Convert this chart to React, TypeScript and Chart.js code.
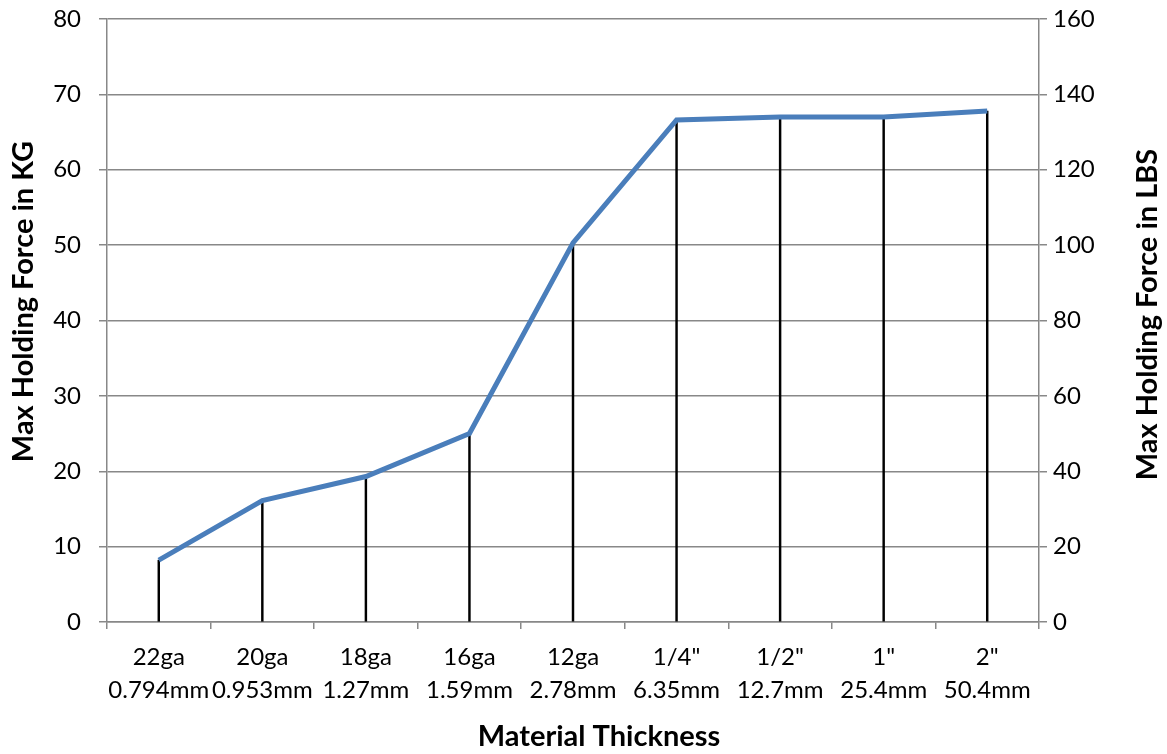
import React, { useEffect, useRef } from "react";
import { Chart, registerables } from "chart.js";

Chart.register(...registerables);

const categories: string[][] = [
  ["22ga", "0.794mm"],
  ["20ga", "0.953mm"],
  ["18ga", "1.27mm"],
  ["16ga", "1.59mm"],
  ["12ga", "2.78mm"],
  ['1/4"', "6.35mm"],
  ['1/2"', "12.7mm"],
  ['1"', "25.4mm"],
  ['2"', "50.4mm"],
];
const holdingForceKg: number[] = [8.2, 16.1, 19.3, 25.0, 50.3, 66.6, 67.0, 67.0, 67.8];

const xTitle = "Material Thickness";
const yLeftTitle = "Max Holding Force in KG";
const yRightTitle = "Max Holding Force in LBS";

const FONT = "Lato, 'Open Sans', sans-serif";

const titlesPlugin = {
  id: "customTitles",
  afterDraw(chart: any) {
    const { ctx, chartArea } = chart;
    ctx.save();
    ctx.fillStyle = "#000";
    ctx.font = `bold 29px ${FONT}`;
    ctx.textAlign = "center";
    ctx.textBaseline = "middle";
    ctx.fillText(xTitle, (chartArea.left + chartArea.right) / 2 + 26, chartArea.bottom + 115);
    ctx.translate(24, (chartArea.top + chartArea.bottom) / 2 - 19);
    ctx.rotate(-Math.PI / 2);
    ctx.fillText(yLeftTitle, 0, 0);
    ctx.restore();
    ctx.save();
    ctx.fillStyle = "#000";
    ctx.font = `bold 29px ${FONT}`;
    ctx.textAlign = "center";
    ctx.textBaseline = "middle";
    ctx.translate(chartArea.right + 109, (chartArea.top + chartArea.bottom) / 2 - 6);
    ctx.rotate(-Math.PI / 2);
    ctx.fillText(yRightTitle, 0, 0);
    ctx.restore();
  },
};

export default function App() {
  const ref = useRef<HTMLCanvasElement | null>(null);
  useEffect(() => {
    document.body.style.margin = "0";
    if (!ref.current) return;
    const chart = new Chart(ref.current, {
      type: "line",
      data: {
        labels: categories,
        datasets: [
          {
            type: "line",
            data: holdingForceKg,
            borderColor: "#4A7EBB",
            borderWidth: 5,
            pointRadius: 0,
            tension: 0,
            yAxisID: "y",
            order: 0,
          } as any,
          {
            type: "bar",
            data: holdingForceKg,
            backgroundColor: "#000000",
            barThickness: 1.8,
            grouped: false,
            yAxisID: "y",
            order: 1,
          } as any,
        ],
      },
      plugins: [titlesPlugin],
      options: {
        animation: false,
        responsive: false,
        maintainAspectRatio: false,
        layout: { padding: { top: 19, left: 0, right: 0, bottom: 0 } },
        plugins: { legend: { display: false }, tooltip: { enabled: false } },
        scales: {
          x: {
            type: "category",
            offset: true,
            grid: {
              offset: true,
              drawOnChartArea: false,
              drawTicks: true,
              tickLength: 7,
              color: "#888888",
              lineWidth: 1.5,
            },
            border: { color: "#888888", width: 1.5 },
            ticks: {
              color: "#000",
              font: { family: FONT, size: 24, lineHeight: 1.38 },
              padding: 12,
              maxRotation: 0,
              autoSkip: false,
            },
            afterFit: (s: any) => {
              s.height = 132;
            },
          },
          y: {
            type: "linear",
            position: "left",
            min: 0,
            max: 80,
            ticks: {
              stepSize: 10,
              color: "#000",
              font: { family: FONT, size: 24 },
              padding: 18,
            },
            grid: { color: "#888888", lineWidth: 1.5, tickLength: 8 },
            border: { color: "#888888", width: 1.5 },
            afterFit: (s: any) => {
              s.width = 107;
              s.paddingTop = 0;
              s.paddingBottom = 0;
            },
          },
          y2: {
            type: "linear",
            position: "right",
            min: 0,
            max: 160,
            ticks: {
              stepSize: 20,
              color: "#000",
              font: { family: FONT, size: 24 },
              padding: 6,
            },
            grid: { drawOnChartArea: false, color: "#888888", lineWidth: 1.5, tickLength: 8 },
            border: { color: "#888888", width: 1.5 },
            afterFit: (s: any) => {
              s.width = 128;
              s.paddingTop = 0;
              s.paddingBottom = 0;
            },
          },
        },
      },
    });
    return () => chart.destroy();
  }, []);
  return (
    <div style={{ position: "absolute", left: 0, top: 0, width: 1167, height: 754, background: "#fff" }}>
      <canvas ref={ref} width={1167} height={754} style={{ width: 1167, height: 754 }} />
    </div>
  );
}
